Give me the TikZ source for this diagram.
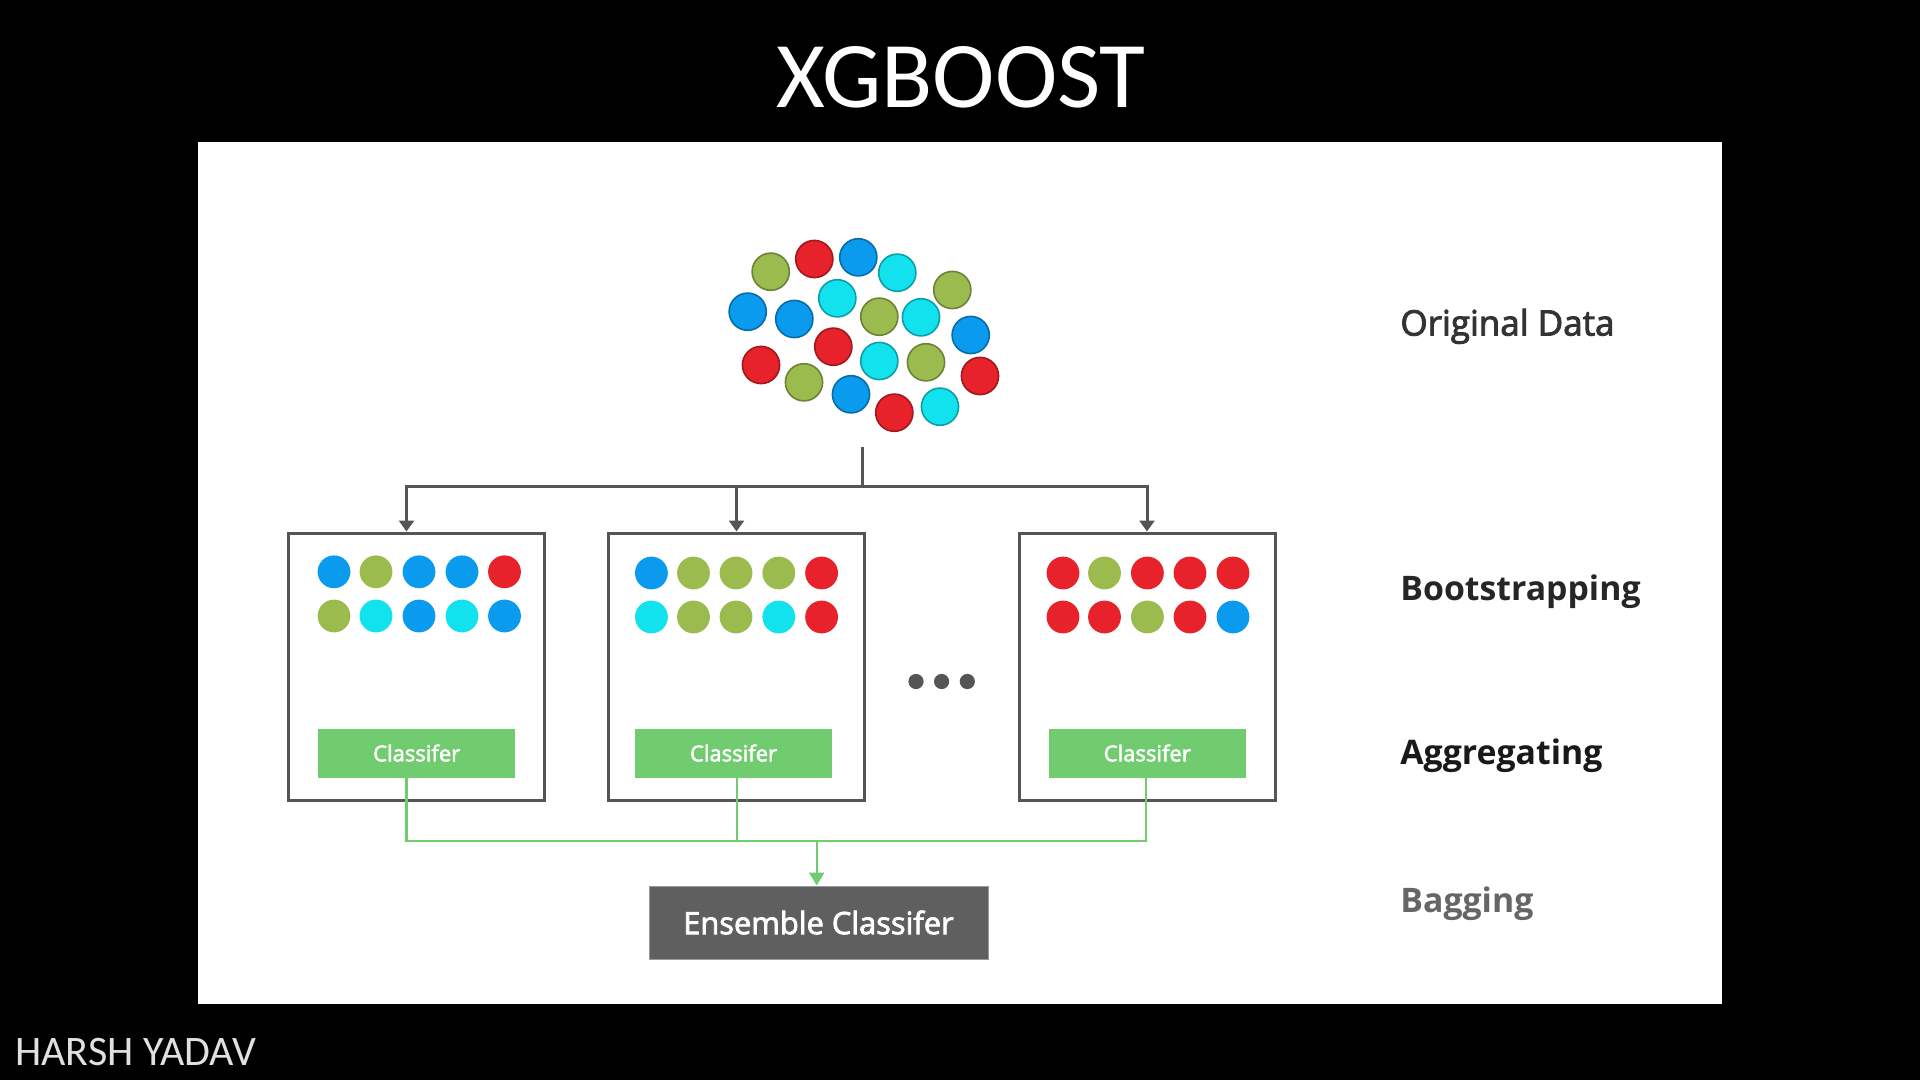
\documentclass[tikz,border=0pt]{standalone}
\usepackage{fontspec}
\setmainfont{Open Sans}
\newfontfamily\titlefont{Carlito}
\newfontfamily\semifont[FakeBold=2.5]{Open Sans}
\usetikzlibrary{arrows.meta,calc}
\definecolor{cg}{HTML}{9BBB4F}
\definecolor{cr}{HTML}{E8222A}
\definecolor{cb}{HTML}{0A9BEF}
\definecolor{cc}{HTML}{12E2EE}
\definecolor{boxgray}{HTML}{555555}
\definecolor{linegray}{HTML}{555555}
\definecolor{clgreen}{HTML}{70CC6E}
\definecolor{ensgray}{HTML}{5F5F5F}
\begin{document}
\begin{tikzpicture}[x=0.5pt,y=-0.5pt,
  bootbox/.style={draw=boxgray, line width=1.5pt, fill=white, minimum width=128pt, minimum height=133.5pt, inner sep=0pt},
  clsbox/.style={fill=clgreen, minimum width=98.5pt, minimum height=24.5pt, inner sep=0pt, text=white, font=\semifont\fontsize{11}{13}\selectfont},
  ensbox/.style={fill=ensgray, draw=gray!80, line width=0.5pt, minimum width=169.5pt, minimum height=36.5pt, inner sep=0pt, text=white, font=\semifont\fontsize{15.4}{18}\selectfont},
  stage/.style={anchor=base west, inner sep=0pt, font=\bfseries\fontsize{16.9}{20}\selectfont},
  grayline/.style={draw=linegray, line width=1.5pt},
  grayarrow/.style={grayline, -{Triangle[width=7.5pt,length=5.5pt]}},
  greenline/.style={draw=clgreen, line width=1.2pt},
  greenarrow/.style={greenline, -{Triangle[width=7.5pt,length=6.5pt]}}
]
\useasboundingbox (0,0) rectangle (1920,1080);
\fill[black] (0,0) rectangle (1920,1080);
\fill[white] (198,142) rectangle (1722,1004);

% title and author
\node[anchor=base, text=white, font=\titlefont\fontsize{47}{56}\selectfont, inner sep=0pt] (title) at (961,108) {XGBOOST};
\node[anchor=base west, text=white!88!black, font=\titlefont\fontsize{21}{25}\selectfont, inner sep=0pt] (author) at (15,1065) {HARSH YADAV};

% original data cloud
\foreach \x/\y/\col in {
  770.7/271.7/cg, 814.3/259/cr, 858.3/257.3/cb, 897.3/272.7/cc, 952.3/290/cg,
  747.7/311.7/cb, 794.3/319/cb, 837.3/298.3/cc, 879.3/316.7/cg, 921/317.3/cc,
  970.7/335/cb, 833.3/346.7/cr, 761/365/cr, 804/382.3/cg, 879.3/361/cc,
  926/362.3/cg, 980/376/cr, 851/394.3/cb, 894.3/412.7/cr, 940/406.7/cc}
  {\filldraw[fill=\col, draw=\col!70!black, line width=0.8pt] (\x,\y) circle[radius=9.3pt];}

% bootstrap boxes
\node[bootbox] (b1) at (416,666.5) {};
\node[bootbox] (b2) at (736.5,666.5) {};
\node[bootbox] (b3) at (1147,666.5) {};

% dots in boxes
\foreach \x/\y/\col in {
  334/571.8/cb, 376/571.8/cg, 419/571.8/cb, 462/571.8/cb, 504.5/571.8/cr,
  334/616/cg, 376/616/cc, 419/616/cb, 462/616/cc, 504.5/616/cb,
  651.4/573/cb, 693.5/573/cg, 736/573/cg, 778.8/573/cg, 821.6/573/cr,
  651.4/617/cc, 693.5/617/cg, 736/617/cg, 778.8/617/cc, 821.6/617/cr,
  1063/573/cr, 1104.5/573/cg, 1147.4/573/cr, 1190/573/cr, 1233/573/cr,
  1063/617/cr, 1104.5/617/cr, 1147.4/617/cg, 1190/617/cr, 1233/617/cb}
  {\fill[\col] (\x,\y) circle[radius=8.2pt];}

% ellipsis
\foreach \x in {916,941.6,967.3} {\fill[linegray] (\x,681.5) circle[radius=3.8pt];}

% classifiers
\node[clsbox] (c1) at (416.7,753) {Classifer};
\node[clsbox] (c2) at (733.5,753) {Classifer};
\node[clsbox] (c3) at (1147.3,753) {Classifer};

% ensemble
\node[ensbox] (ens) at (818.5,922.5) {Ensemble Classifer};

% stage labels
\node[stage, font=\semifont\fontsize{17.5}{20}\selectfont, text=black!80] (lorig) at (1400,335.5) {Original Data};
\node[stage, text=black!85] (lboot) at (1400,600) {Bootstrapping};
\node[stage, text=black!90] (lagg) at (1400,764) {Aggregating};
\node[stage, text=black!60] (lbag) at (1400,912) {Bagging};

% gray connectors
\coordinate (cloudbot) at (862,447);
\coordinate (split) at (862,486);
\draw[grayline] (cloudbot) -- (split);
\draw[grayarrow] (split) -| ($(b1.north)+(-9.5,0)$);
\draw[grayarrow] (split) -| (b2.north);
\draw[grayarrow] (split) -| (b3.north);

% green connectors
\coordinate (merge) at (816.7,841);
\draw[greenline] ($(c1.south)+(-10.2,0)$) |- (merge);
\draw[greenline] ($(c2.south)+(3.5,0)$) |- (merge);
\draw[greenline] ($(c3.south)+(-1.3,0)$) |- (merge);
\draw[greenarrow] (merge) -- (merge |- ens.north);
\end{tikzpicture}
\end{document}
